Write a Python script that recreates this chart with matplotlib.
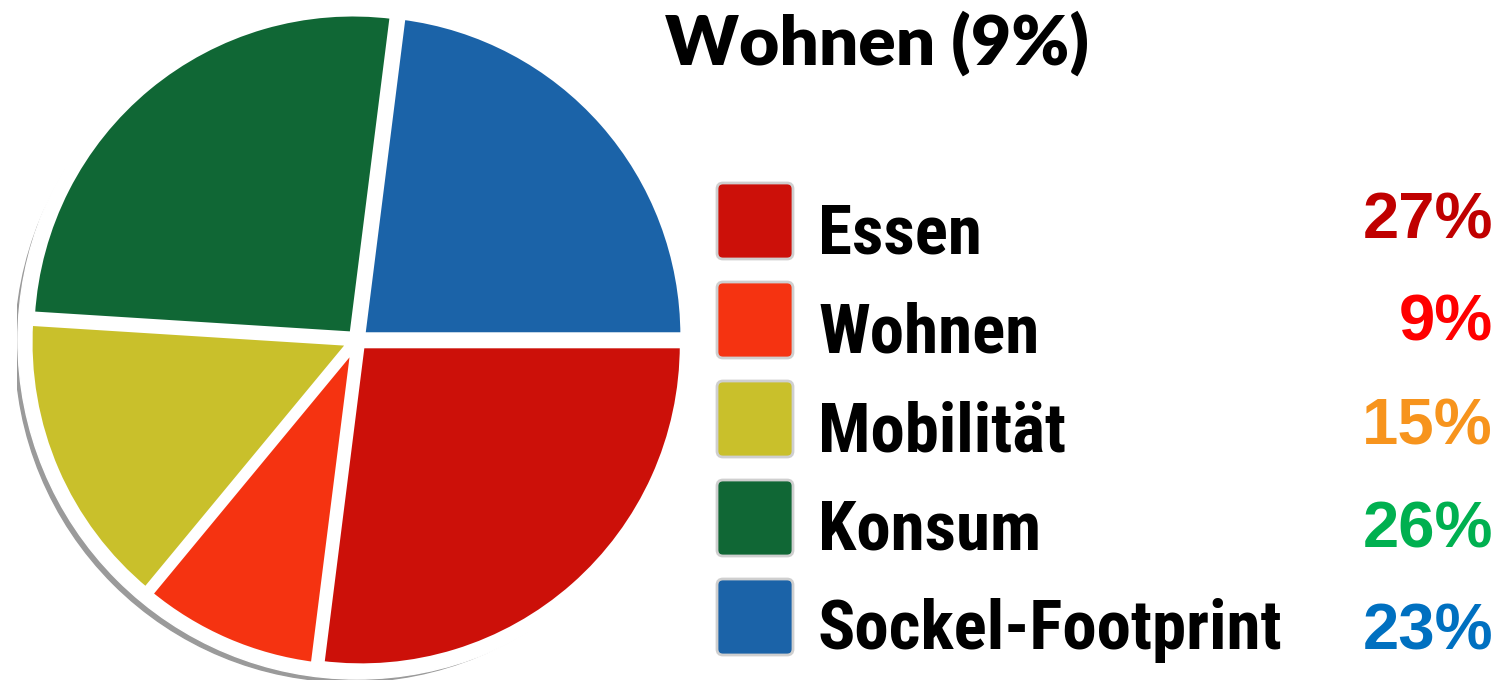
import matplotlib.pyplot as plt
from matplotlib.patches import Circle, FancyBboxPatch
from matplotlib import font_manager

kategorien = ['Essen', 'Wohnen', 'Mobilität', 'Konsum', 'Sockel-Footprint']
anteile = [27, 9, 15, 26, 23]
farben = ['#CC1009', '#F53311', '#C9C02B', '#106735', '#1B63A8']
prozent_farben = ['#C00000', '#FF0000', '#F7941D', '#00B050', '#0070C0']
titel = 'Wohnen (9%)'

# schmale Schrift suchen, sonst DejaVu Sans (condensed falls vorhanden)
namen = {f.name for f in font_manager.fontManager.ttflist}
schmal = 'DejaVu Sans'
for kandidat in ['Liberation Sans Narrow', 'Roboto Condensed', 'Open Sans Condensed']:
    if kandidat in namen:
        schmal = kandidat
        break

fig = plt.figure(figsize=(15, 6.85), dpi=100)

# Kreisdiagramm
W, H = 1500, 685
cx, cy, r = 357, 340, 322
ax = fig.add_axes([(cx - 340) / W, (H - cy - 340) / H, 680 / W, 680 / H])
lim = 340 / r
ax.set_aspect('equal')
ax.axis('off')

# Schatten unten links (schmale graue Sichel mit weissem Abstand)
ax.add_patch(Circle((-0.022, -0.022), 1.040, color='#9a9a9a', zorder=0))
ax.add_patch(Circle((0, 0), 1.053, color='white', zorder=0.5))

ax.pie(anteile, colors=farben, startangle=0, counterclock=False,
       explode=[0.02] * len(anteile),
       wedgeprops=dict(edgecolor='white', linewidth=5))
ax.set_xlim(-lim, lim)
ax.set_ylim(-lim, lim)

# Legende in Pixelkoordinaten
lg = fig.add_axes([0, 0, 1, 1])
lg.set_xlim(0, W)
lg.set_ylim(H, 0)
lg.axis('off')

lg.text(665, 65, titel, fontsize=50, fontweight='heavy', family='Lato',
        ha='left', va='baseline', color='black')

box_mitte = [221, 320, 419, 518, 617]
prozent_basis = [238, 340, 444, 547, 650]
texte = []
for i, name in enumerate(kategorien):
    ym = box_mitte[i]
    lg.add_patch(FancyBboxPatch((717, ym - 38), 76, 76,
                                boxstyle='round,pad=0,rounding_size=6',
                                facecolor=farben[i], edgecolor='#cfcfcf', linewidth=2))
    t = lg.text(818, ym + 32, name, fontsize=42, fontweight='bold', family=schmal,
                fontstretch='condensed', ha='left', va='baseline', color='black')
    texte.append(t)
    lg.text(1493, prozent_basis[i], f'{anteile[i]}%', fontsize=47, fontweight='bold',
            family='Liberation Sans', ha='right', va='baseline', color=prozent_farben[i])

# Schriftgroesse so anpassen, dass "Sockel-Footprint" ca. 465 px breit ist
renderer = fig.canvas.get_renderer()
breite = texte[-1].get_window_extent(renderer).width
groesse = 42 * 465 / breite
for t in texte:
    t.set_fontsize(groesse)

fig.savefig('out.png', dpi=100)
